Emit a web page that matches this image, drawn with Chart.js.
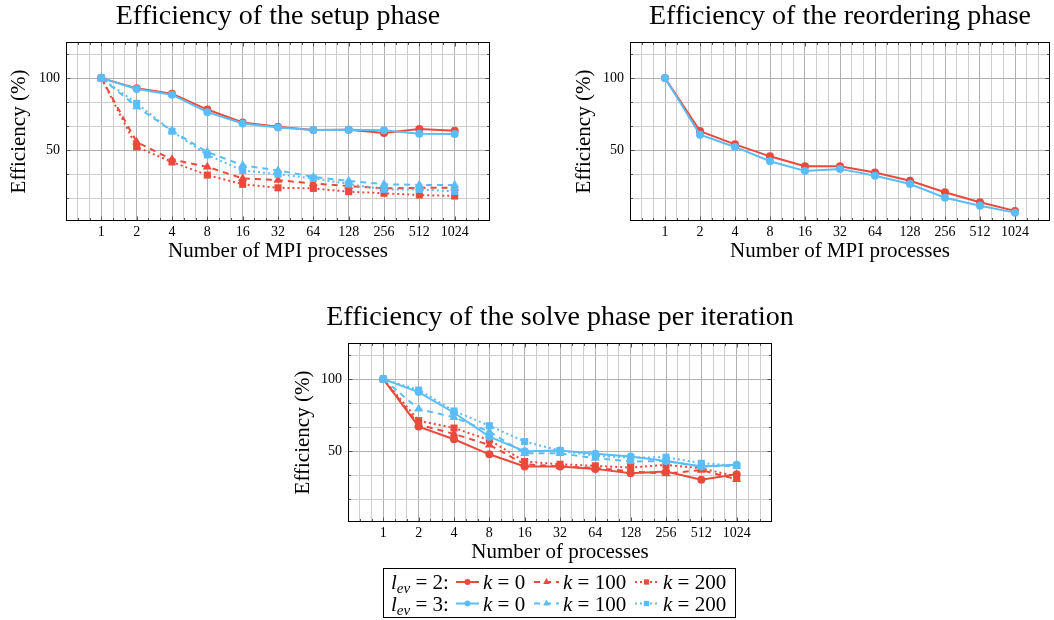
<!DOCTYPE html>
<html>
<head>
<meta charset="utf-8">
<title>Efficiency</title>
<script src="https://cdn.jsdelivr.net/npm/chart.js@4.4.0/dist/chart.umd.min.js"></script>
<style>
    body { margin: 0; background: #fff; width: 1054px; height: 620px; position: relative; overflow: hidden; }
    canvas { position: absolute; }
</style>
</head>
<body>
<canvas id="graficoSetup" width="500" height="270" style="left:0;top:0"></canvas>
<canvas id="graficoReorder" width="494" height="270" style="left:560px;top:0"></canvas>
<canvas id="graficoSolve" width="560" height="320" style="left:280px;top:300px"></canvas>
<script>
// number of processes on the x axis
const processos = [1, 2, 4, 8, 16, 32, 64, 128, 256, 512, 1024];

// setup phase (%)
const setupL2K0 = [100, 92.9, 89.2, 78.2, 69.3, 66.3, 64.0, 64.2, 61.9, 64.7, 63.5];
const setupL2K100 = [100, 55.7, 43.6, 38.5, 30.5, 29.3, 27.0, 25.2, 23.6, 24.0, 24.0];
const setupL2K200 = [100, 52.3, 41.9, 32.8, 26.4, 24.0, 23.6, 21.3, 20.2, 19.0, 18.3];
const setupL3K0 = [100, 92.4, 88.5, 76.4, 68.6, 65.8, 64.0, 64.2, 63.8, 61.5, 61.2];
const setupL3K100 = [100, 80.2, 63.5, 48.8, 39.6, 36.0, 31.6, 28.7, 26.5, 26.0, 25.9];
const setupL3K200 = [100, 82.5, 63.2, 46.8, 36.0, 33.4, 30.5, 26.6, 22.9, 22.9, 21.5];

// reordering phase (%)
const reorderL2 = [100, 63.3, 54.1, 45.8, 39.0, 39.0, 34.6, 28.9, 20.9, 14.0, 8.0];
const reorderL3 = [100, 60.8, 52.3, 42.4, 35.7, 37.1, 32.3, 26.6, 17.1, 11.6, 6.8];

// solve phase per iteration (%)
const solveL2K0 = [100, 67.1, 58.3, 47.9, 39.4, 39.4, 37.8, 34.8, 35.9, 30.2, 34.1];
const solveL2K100 = [100, 68.5, 62.0, 54.4, 41.0, 39.5, 38.5, 36.0, 34.5, 37.0, 30.5];
const solveL2K200 = [100, 71.2, 66.1, 57.8, 42.9, 41.0, 39.9, 38.7, 40.6, 38.2, 32.5];
const solveL3K0 = [100, 91.0, 76.7, 60.1, 50.0, 50.5, 48.2, 46.3, 43.3, 39.4, 40.6];
const solveL3K100 = [100, 79.3, 73.5, 63.6, 48.6, 48.6, 45.2, 42.9, 43.3, 39.4, 40.1];
const solveL3K200 = [100, 92.4, 77.9, 67.7, 56.7, 50.5, 46.8, 45.6, 45.9, 41.7, 40.1];

// y ticks: labelled ones and the grid in between
const rotulosY = [50, 100];
const marcasY = [50 / 3, 100 / 3, 50, 200 / 3, 250 / 3, 100, 350 / 3];

const VERMELHO = '#ea4a3b';
const AZUL = '#5bbdf8';
const SERIF = "'Liberation Serif', 'Times New Roman', serif";

// three grid lines per doubling of processes
const marcasX = [];
for (let k = -2; k <= 32; k++) {
    marcasX.push(Math.pow(2, k / 3));
}

function ehPotencia(v) {
    const e = Math.log2(v);
    return Math.abs(e - Math.round(e)) < 1e-6;
}

function ehRotuloY(v) {
    return rotulosY.some(r => Math.abs(r - v) < 1e-6);
}

function pontos(valores) {
    return processos.map((p, i) => ({ x: p, y: valores[i] }));
}

// line styles per k
const estilos = {
    k0: { borderDash: [], pointStyle: 'circle', pointRadius: 4 },
    k100: { borderDash: [6, 5], pointStyle: 'triangle', pointRadius: 5.2 },
    k200: { borderDash: [2, 3], pointStyle: 'rect', pointRadius: 5 }
};

function serie(valores, cor, estilo, ordem) {
    const e = estilos[estilo];
    return {
        data: pontos(valores),
        borderColor: cor,
        backgroundColor: cor,
        pointBackgroundColor: cor,
        pointBorderColor: cor,
        pointBorderWidth: 0,
        borderWidth: 2,
        borderDash: e.borderDash,
        pointStyle: e.pointStyle,
        pointRadius: e.pointRadius,
        tension: 0,
        order: ordem
    };
}

// box, inward tick marks and the title above the plot
const moldura = {
    id: 'moldura',
    afterDraw(chart, args, opts) {
        const { ctx, chartArea: a } = chart;
        const l = Math.round(a.left) + 0.5, r = Math.round(a.right) - 0.5;
        const t = Math.round(a.top) + 0.5, b = Math.round(a.bottom) - 0.5;
        ctx.save();
        ctx.strokeStyle = '#555';
        ctx.lineWidth = 1;
        ctx.beginPath();
        chart.scales.x.ticks.forEach(tk => {
            const x = Math.round(chart.scales.x.getPixelForValue(tk.value)) + 0.5;
            const len = ehPotencia(tk.value) ? 4 : 2.5;
            ctx.moveTo(x, b); ctx.lineTo(x, b - len);
            ctx.moveTo(x, t); ctx.lineTo(x, t + len);
        });
        chart.scales.y.ticks.forEach(tk => {
            const y = Math.round(chart.scales.y.getPixelForValue(tk.value)) + 0.5;
            const len = ehRotuloY(tk.value) ? 4 : 2.5;
            ctx.moveTo(l, y); ctx.lineTo(l + len, y);
            ctx.moveTo(r, y); ctx.lineTo(r - len, y);
        });
        ctx.stroke();
        ctx.strokeStyle = '#000';
        ctx.strokeRect(l, t, r - l, b - t);
        ctx.fillStyle = '#000';
        ctx.font = '28px ' + SERIF;
        ctx.textAlign = 'center';
        ctx.textBaseline = 'alphabetic';
        ctx.fillText(opts.texto, (a.left + a.right) / 2, opts.y);
        ctx.restore();
    }
};

function opcoes(titulo, tituloY, largY, altX, tituloXPad, tituloYPad, padding, xTitulo) {
    return {
        responsive: false,
        animation: false,
        layout: { padding: padding },
        plugins: {
            legend: { display: false },
            tooltip: { enabled: false },
            moldura: { texto: titulo, y: tituloY }
        },
        scales: {
            x: {
                type: 'logarithmic',
                min: 0.5,
                max: 2048,
                afterBuildTicks: (scale) => { scale.ticks = marcasX.map(v => ({ value: v })); },
                afterFit: (scale) => { scale.height = altX; },
                grid: {
                    drawTicks: false,
                    color: (c) => (c.tick && ehPotencia(c.tick.value)) ? '#b0b0b0' : '#cecece'
                },
                border: { display: false },
                ticks: {
                    autoSkip: false,
                    maxRotation: 0,
                    padding: 3,
                    color: '#000',
                    font: { family: SERIF, size: 14 },
                    callback: (v) => {
                        if (!ehPotencia(v)) return '';
                        const e = Math.round(Math.log2(v));
                        return (e >= 0 && e <= 10) ? String(Math.pow(2, e)) : '';
                    }
                },
                title: {
                    display: true,
                    text: xTitulo,
                    color: '#000',
                    font: { family: SERIF, size: 21 },
                    padding: { top: tituloXPad, bottom: tituloXPad }
                }
            },
            y: {
                min: 1,
                max: 125,
                afterBuildTicks: (scale) => { scale.ticks = marcasY.map(v => ({ value: v })); },
                afterFit: (scale) => { scale.width = largY; },
                grid: {
                    drawTicks: false,
                    color: (c) => (c.tick && ehRotuloY(c.tick.value)) ? '#b0b0b0' : '#cecece'
                },
                border: { display: false },
                ticks: {
                    padding: 6,
                    color: '#000',
                    font: { family: SERIF, size: 14 },
                    callback: (v) => ehRotuloY(v) ? String(Math.round(v)) : ''
                },
                title: {
                    display: true,
                    text: 'Efficiency (%)',
                    color: '#000',
                    font: { family: SERIF, size: 21 },
                    padding: { top: tituloYPad, bottom: tituloYPad }
                }
            }
        }
    };
}

// draws a run of text pieces (italic / subscript) and returns where it ended
function escrever(ctx, partes, x, y) {
    partes.forEach(p => {
        ctx.font = p.fonte;
        ctx.fillText(p.t, x, y + (p.dy || 0));
        x += ctx.measureText(p.t).width;
    });
    return x;
}

function marcador(ctx, estilo, x, y, r) {
    ctx.beginPath();
    if (estilo === 'circle') {
        ctx.arc(x, y, r, 0, Math.PI * 2);
    } else if (estilo === 'rect') {
        const s = r * Math.SQRT1_2;
        ctx.rect(x - s, y - s, 2 * s, 2 * s);
    } else {
        ctx.moveTo(x, y - r);
        ctx.lineTo(x + r * 0.866, y + r * 0.5);
        ctx.lineTo(x - r * 0.866, y + r * 0.5);
        ctx.closePath();
    }
    ctx.fill();
}

// legend below the solve chart, one row per l_ev
const legendaSolve = {
    id: 'legendaSolve',
    afterDraw(chart) {
        const ctx = chart.ctx;
        const ds = chart.data.datasets;
        const linhas = [
            { nivel: '2', idx: [0, 1, 2], y: 282 },
            { nivel: '3', idx: [3, 4, 5], y: 303.5 }
        ];
        const amostras = [[176, 199, 203, '0'], [254, 279, 283, '100'], [355, 378, 383, '200']];
        const it = 'italic 21px ' + SERIF, up = '21px ' + SERIF, sub = 'italic 15px ' + SERIF;

        ctx.save();
        ctx.strokeStyle = '#000';
        ctx.lineWidth = 1;
        ctx.strokeRect(103.5, 268.5, 352, 49);
        ctx.fillStyle = '#000';
        ctx.textBaseline = 'alphabetic';
        ctx.textAlign = 'left';

        linhas.forEach(lin => {
            ctx.fillStyle = '#000';
            escrever(ctx, [
                { t: 'l', fonte: it },
                { t: 'ev', fonte: sub, dy: 4 },
                { t: ' = ' + lin.nivel + ':', fonte: up }
            ], 111, lin.y + 7);
            lin.idx.forEach((d, j) => {
                const s = ds[d];
                const [x0, x1, xt, k] = amostras[j];
                ctx.strokeStyle = s.borderColor;
                ctx.lineWidth = s.borderWidth;
                ctx.setLineDash(s.borderDash);
                ctx.beginPath();
                ctx.moveTo(x0, lin.y);
                ctx.lineTo(x1, lin.y);
                ctx.stroke();
                ctx.setLineDash([]);
                ctx.fillStyle = s.borderColor;
                marcador(ctx, s.pointStyle, (x0 + x1) / 2, lin.y, s.pointRadius * 0.75);
                ctx.fillStyle = '#000';
                escrever(ctx, [
                    { t: 'k', fonte: it },
                    { t: ' = ' + k, fonte: up }
                ], xt, lin.y + 7);
            });
        });
        ctx.restore();
    }
};

// setup phase
new Chart(document.getElementById('graficoSetup'), {
    type: 'line',
    data: {
        datasets: [
            serie(setupL2K0, VERMELHO, 'k0', 1),
            serie(setupL2K100, VERMELHO, 'k100', 1),
            serie(setupL2K200, VERMELHO, 'k200', 1),
            serie(setupL3K0, AZUL, 'k0', 0),
            serie(setupL3K100, AZUL, 'k100', 0),
            serie(setupL3K200, AZUL, 'k200', 0)
        ]
    },
    options: opcoes('Efficiency of the setup phase', 24, 66, 49, 6, 7,
        { top: 42, right: 10, left: 0, bottom: 0 }, 'Number of MPI processes'),
    plugins: [moldura]
});

// reordering phase
new Chart(document.getElementById('graficoReorder'), {
    type: 'line',
    data: {
        datasets: [
            serie(reorderL2, VERMELHO, 'k0', 1),
            serie(reorderL3, AZUL, 'k0', 0)
        ]
    },
    options: opcoes('Efficiency of the reordering phase', 24, 70, 49, 6, 12,
        { top: 42, right: 1, left: 0, bottom: 0 }, 'Number of MPI processes'),
    plugins: [moldura]
});

// solve phase per iteration, with the shared legend
new Chart(document.getElementById('graficoSolve'), {
    type: 'line',
    data: {
        datasets: [
            serie(solveL2K0, VERMELHO, 'k0', 1),
            serie(solveL2K100, VERMELHO, 'k100', 1),
            serie(solveL2K200, VERMELHO, 'k200', 1),
            serie(solveL3K0, AZUL, 'k0', 0),
            serie(solveL3K100, AZUL, 'k100', 0),
            serie(solveL3K200, AZUL, 'k200', 0)
        ]
    },
    options: opcoes('Efficiency of the solve phase per iteration', 25, 68, 43, 0, 11,
        { top: 43, right: 68, left: 0, bottom: 55 }, 'Number of processes'),
    plugins: [moldura, legendaSolve]
});
</script>
</body>
</html>
